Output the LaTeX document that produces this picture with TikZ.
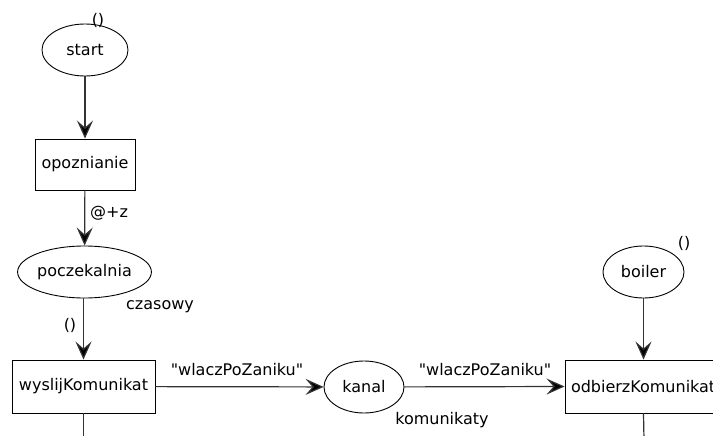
\documentclass[tikz,border=0pt]{standalone}
\usepackage{fontspec}
\newfontfamily\dv{DejaVu Sans}
\usetikzlibrary{shapes.geometric,arrows.meta}
\begin{document}
\begin{tikzpicture}[x=1pt,y=-1pt,
  font=\dv\fontsize{16}{19}\selectfont,
  place/.style={draw=black, line width=0.9pt, ellipse, inner sep=0pt},
  trans/.style={draw=black, line width=0.9pt, rectangle, inner sep=0pt},
  arc/.style={draw=black!80, line width=1.2pt, -{Stealth[length=18pt,width=16pt,inset=7pt,fill=black]}},
  plain/.style={draw=black!80, line width=1.2pt},
  lbl/.style={inner sep=0pt}]
\useasboundingbox[clip] (0,0) rectangle (713,436);

% places
\node[place, minimum width=86pt, minimum height=52pt] (start) at (85,50) {start};
\node[place, minimum width=115pt, minimum height=52pt] (pocz) at (84.5,272) {poczekalnia};
\node[place, minimum width=80pt, minimum height=52pt] (kanal) at (364,387) {kanal};
\node[place, minimum width=81pt, minimum height=52pt] (boiler) at (643.5,272) {boiler};

% transitions
\node[trans, minimum width=100pt, minimum height=51pt] (opoz) at (85,164.5) {opoznianie};
\node[trans, minimum width=143pt, minimum height=53pt] (wysl) at (83.5,386.5) {wyslijKomunikat};
\node[trans, minimum width=158pt, minimum height=53pt, text width=146pt, align=left] (odb) at (644,386.5) {odbierzKomunikat};

% markings, types and arc inscriptions
\node[lbl] (m1) at (98,20) {()};
\node[lbl] (m2) at (70,325) {()};
\node[lbl] (m3) at (684,243) {()};
\node[lbl, anchor=west] (d1) at (90,213) {@+z};
\node[lbl] (t1) at (160,307) {czasowy};
\node[lbl] (t2) at (442,420) {komunikaty};
\node[lbl] (e1) at (237,370) {"wlaczPoZaniku"};
\node[lbl] (e2) at (485,370) {"wlaczPoZaniku"};

% free ends below the bottom edge
\coordinate (w0) at (83.5,440);
\coordinate (o0) at (644,440);

% arcs
\draw[arc] (start) -- (opoz);
\draw[arc] (opoz) -- (pocz);
\draw[arc] (pocz.south -| wysl.north) -- (wysl.north);
\draw[arc] (wysl) -- (kanal);
\draw[arc] (kanal) -- (odb.west);
\draw[arc] (boiler) -- (boiler.south |- odb.north);
\draw[plain] (wysl.south) -- (w0);
\draw[plain] (boiler.south |- odb.south) -- (o0);
\end{tikzpicture}
\end{document}
